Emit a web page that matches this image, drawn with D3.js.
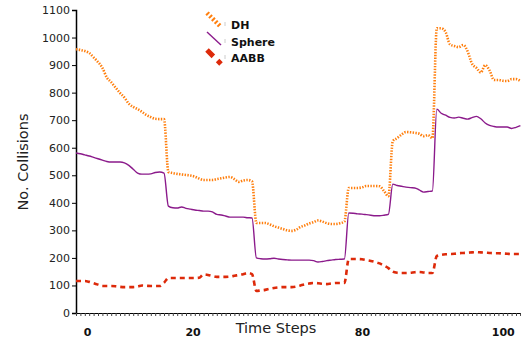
<!DOCTYPE html>
<html>
<head>
<meta charset="utf-8">
<script src="https://cdn.jsdelivr.net/npm/d3@7"></script>
<style>
  body { margin: 0; background: #fff; }
  text { font-family: "DejaVu Sans", Verdana, sans-serif; }
</style>
</head>
<body>
<svg width="521" height="339"></svg>
<script>
// values per time step
const dhValues = [958, 955, 951, 944, 928, 911, 890, 855, 838, 818,
    799, 782, 760, 748, 740, 730, 719, 711, 705, 704,
    704, 512, 508, 505, 503, 501, 499, 495, 488, 483,
    483, 483, 486, 489, 492, 494, 486, 476, 481, 483,
    478, 327, 327, 327, 322, 315, 310, 305, 300, 298,
    302, 312, 318, 325, 330, 336, 332, 326, 323, 323,
    326, 332, 454, 454, 454, 456, 461, 461, 461, 460,
    443, 424, 624, 635, 648, 657, 656, 654, 651, 642,
    646, 635, 1034, 1034, 1020, 975, 969, 965, 973, 950,
    905, 890, 873, 900, 880, 846, 846, 843, 842, 849,
    849, 842];
const sphereValues = [581, 578, 574, 570, 565, 560, 555, 550, 548, 548,
    548, 545, 536, 522, 508, 504, 504, 505, 510, 512,
    508, 388, 382, 381, 385, 380, 377, 374, 372, 370,
    370, 367, 358, 356, 352, 348, 348, 348, 348, 346,
    345, 200, 197, 196, 197, 199, 196, 194, 193, 192,
    192, 192, 192, 192, 190, 185, 187, 190, 192, 194,
    195, 196, 363, 362, 360, 359, 357, 355, 353, 353,
    355, 358, 468, 463, 460, 457, 455, 454, 447, 439,
    441, 443, 740, 725, 718, 710, 708, 711, 707, 704,
    709, 714, 705, 690, 681, 677, 675, 675, 675, 670,
    674, 680];
const aabbValues = [116, 116, 116, 113, 108, 103, 98, 98, 98, 97,
    95, 94, 94, 94, 96, 100, 99, 98, 98, 98,
    110, 127, 127, 127, 127, 127, 127, 127, 128, 140,
    138, 134, 131, 131, 131, 132, 135, 138, 141, 145,
    141, 80, 82, 84, 88, 91, 93, 94, 94, 94,
    96, 100, 104, 107, 109, 108, 106, 105, 107, 109,
    109, 109, 196, 196, 196, 195, 192, 189, 185, 180,
    172, 163, 150, 146, 145, 145, 146, 148, 149, 147,
    145, 145, 207, 211, 213, 214, 215, 217, 218, 219,
    220, 221, 220, 219, 218, 217, 217, 216, 215, 214,
    214, 214];

const seriesNames = ["DH", "Sphere", "AABB"];
const yTicks = [0, 100, 200, 300, 400, 500, 600, 700, 800, 900, 1000, 1100];
const xLabelSteps = [2.5, 26.5, 65, 97];
const xLabels = ["0", "20", "80", "100"];

const svg = d3.select("svg");
const x = d3.scaleLinear().domain([0, 101]).range([76, 520.4]);
const y = d3.scaleLinear().domain([0, 1100]).range([313, 10]);

const series = [
    {name: seriesNames[0], values: dhValues, color: "#ff7f0e", width: 2.6, dash: "1.4,1.4"},
    {name: seriesNames[1], values: sphereValues, color: "#8b1a8b", width: 1.4, dash: null},
    {name: seriesNames[2], values: aabbValues, color: "#dd2a0a", width: 2.6, dash: "5,4"}
];

// y axis
const yAxis = svg.append("g")
    .attr("transform", "translate(76,0)")
    .call(d3.axisLeft(y).tickValues(yTicks).tickSize(4).tickPadding(2).tickFormat(d3.format("d")));
yAxis.select(".domain").attr("stroke", "#000").attr("stroke-width", 1.5);
yAxis.selectAll("text").attr("font-size", 11).attr("fill", "#222");

// x axis: one tick per step
const xAxis = svg.append("g")
    .attr("transform", "translate(0,313)")
    .call(d3.axisBottom(x).tickValues(d3.range(0, 102)).tickSize(3).tickFormat(""));
xAxis.select(".domain").attr("stroke", "#000").attr("stroke-width", 1);
xAxis.selectAll(".tick line").attr("stroke", "#444");

const xLab = svg.append("g")
    .attr("transform", "translate(0,325)")
    .call(d3.axisBottom(x).tickValues(xLabelSteps).tickSize(0).tickPadding(3)
        .tickFormat((d, i) => xLabels[i]));
xLab.select(".domain").remove();
xLab.selectAll("text").attr("font-size", 11).attr("font-weight", "bold").attr("fill", "#111");

// axis titles
svg.append("text")
    .attr("x", 276).attr("y", 333)
    .attr("text-anchor", "middle")
    .attr("font-size", 14.5)
    .attr("fill", "#222")
    .text("Time Steps");
svg.append("text")
    .attr("transform", "translate(28,162) rotate(-90)")
    .attr("text-anchor", "middle")
    .attr("font-size", 14.5)
    .attr("fill", "#222")
    .text("No. Collisions");

// lines
const line = d3.line()
    .x((d, i) => x(i))
    .y(d => y(d))
    .curve(d3.curveMonotoneX);

svg.append("g").selectAll("path.series")
    .data(series)
    .join("path")
    .attr("class", "series")
    .attr("d", d => line(d.values))
    .attr("fill", "none")
    .attr("stroke", d => d.color)
    .attr("stroke-width", d => d.width)
    .attr("stroke-dasharray", d => d.dash);

// legend
const legendRows = [
    {s: series[0], ty: 25, y0: 13, y1: 27, w: 4.5, dash: "2,2"},
    {s: series[1], ty: 42, y0: 32, y1: 45, w: 1.4, dash: null},
    {s: series[2], ty: 58, y0: 50, y1: 64, w: 5, dash: "9,6"}
];
const lg = svg.append("g");
legendRows.forEach(r => {
    lg.append("line")
        .attr("x1", 207).attr("y1", r.y0)
        .attr("x2", 221).attr("y2", r.y1)
        .attr("stroke", r.s.color)
        .attr("stroke-width", r.w)
        .attr("stroke-dasharray", r.dash);
    lg.append("line")
        .attr("x1", 225).attr("x2", 225)
        .attr("y1", r.ty - 3).attr("y2", r.ty + 1)
        .attr("stroke", "#ccc").attr("stroke-width", 1);
    lg.append("text")
        .attr("x", 231).attr("y", r.ty + 4)
        .attr("font-size", 11)
        .attr("font-weight", "bold")
        .attr("fill", "#111")
        .text(r.s.name);
});
</script>
</body>
</html>
